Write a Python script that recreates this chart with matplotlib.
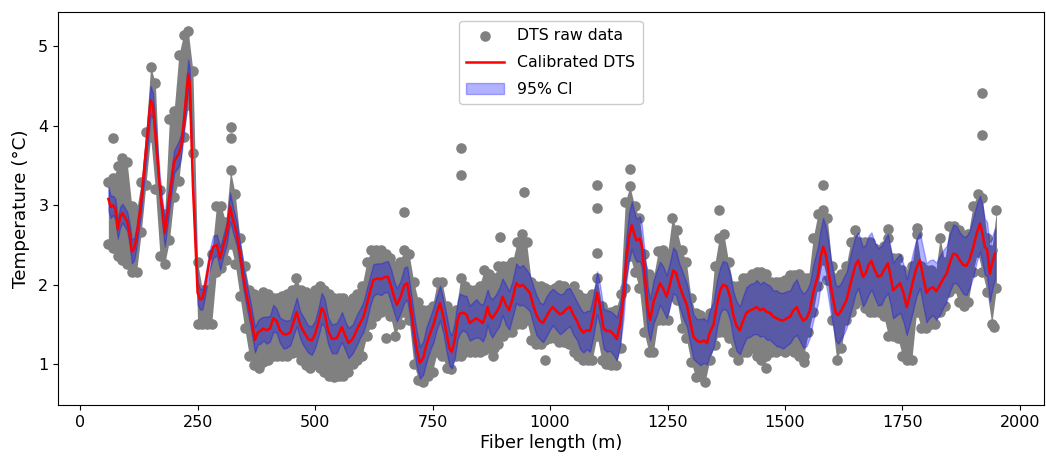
import numpy as np
import matplotlib
matplotlib.use("Agg")
import matplotlib.pyplot as plt

# Calibrated DTS line (fiber length m, temperature degC)
red_x = [60, 65, 70, 75, 80, 85, 90, 100, 105, 110,
         115, 120, 130, 140, 150, 155, 160, 170, 180, 190,
         200, 205, 210, 215, 220, 230, 233, 240, 250, 255,
         260, 265, 275, 283, 291, 298, 305, 312, 319, 326,
         333, 340, 347, 355, 362, 372, 378, 383, 390, 397,
         404, 411, 418, 425, 433, 440, 447, 455, 461, 468,
         475, 485, 493, 500, 508, 514, 520, 528, 536, 546,
         553, 557, 565, 571, 580, 590, 596, 603, 610, 617,
         624, 632, 640, 649, 655, 662, 668, 674, 682, 690,
         696, 702, 709, 716, 723, 730, 737, 745, 752, 759,
         766, 773, 780, 786, 791, 797, 803, 808, 815, 822,
         829, 836, 843, 850, 857, 862, 867, 872, 877, 885,
         892, 899, 906, 913, 920, 928, 935, 942, 950, 957,
         964, 971, 978, 985, 992, 1000, 1006, 1014, 1021, 1028,
         1035, 1042, 1050, 1057, 1064, 1071, 1078, 1085, 1092, 1100,
         1106, 1114, 1121, 1128, 1135, 1142, 1149, 1156, 1162, 1168,
         1174, 1180, 1184, 1191, 1195, 1202, 1208, 1213, 1220, 1227,
         1234, 1241, 1248, 1255, 1262, 1268, 1275, 1284, 1291, 1298,
         1305, 1312, 1320, 1327, 1334, 1340, 1348, 1355, 1362, 1368,
         1376, 1383, 1390, 1397, 1404, 1411, 1418, 1426, 1433, 1440,
         1447, 1454, 1461, 1468, 1475, 1482, 1489, 1496, 1504, 1511,
         1518, 1525, 1532, 1539, 1546, 1553, 1560, 1570, 1576, 1581,
         1586, 1591, 1597, 1603, 1608, 1613, 1620, 1626, 1631, 1638,
         1645, 1650, 1656, 1661, 1666, 1672, 1678, 1684, 1690, 1698,
         1705, 1712, 1719, 1725, 1730, 1738, 1745, 1752, 1759, 1766,
         1773, 1780, 1787, 1794, 1801, 1808, 1815, 1822, 1830, 1837,
         1844, 1851, 1858, 1865, 1872, 1879, 1886, 1893, 1901, 1908,
         1915, 1920, 1925, 1930, 1936, 1942, 1947]
red_y = [3.08, 2.98, 3.0, 2.95, 2.7, 2.85, 2.9, 2.8, 2.65, 2.42,
         2.45, 2.6, 3.05, 3.7, 4.32, 4.25, 3.9, 3.2, 2.65, 3.1,
         3.55, 3.6, 3.65, 3.75, 4.0, 4.65, 4.55, 3.25, 1.9, 1.82,
         1.82, 1.95, 2.3, 2.48, 2.5, 2.33, 2.5, 2.65, 2.98, 2.8,
         2.65, 2.4, 2.1, 1.85, 1.65, 1.31, 1.4, 1.42, 1.45, 1.43,
         1.45, 1.58, 1.55, 1.43, 1.38, 1.38, 1.4, 1.55, 1.66, 1.5,
         1.42, 1.32, 1.3, 1.38, 1.55, 1.71, 1.65, 1.42, 1.32, 1.33,
         1.42, 1.47, 1.35, 1.27, 1.32, 1.45, 1.52, 1.6, 1.75, 1.92,
         2.06, 2.08, 2.07, 2.1, 2.1, 1.98, 1.85, 1.75, 1.85, 2.0,
         2.02, 1.8, 1.48, 1.2, 1.02, 1.08, 1.25, 1.39, 1.5, 1.65,
         1.77, 1.6, 1.38, 1.2, 1.16, 1.3, 1.55, 1.64, 1.65, 1.63,
         1.52, 1.55, 1.58, 1.55, 1.52, 1.6, 1.72, 1.62, 1.58, 1.65,
         1.72, 1.85, 1.75, 1.68, 1.82, 2.02, 1.98, 2.0, 1.95, 1.9,
         1.75, 1.62, 1.55, 1.52, 1.6, 1.68, 1.72, 1.67, 1.63, 1.65,
         1.7, 1.72, 1.62, 1.55, 1.45, 1.4, 1.43, 1.42, 1.6, 1.9,
         1.75, 1.45, 1.42, 1.42, 1.38, 1.32, 1.5, 1.83, 2.3, 2.6,
         2.75, 2.62, 2.56, 2.58, 2.5, 2.1, 1.7, 1.56, 1.78, 1.9,
         2.02, 1.95, 1.85, 2.0, 2.18, 2.15, 2.0, 1.85, 1.75, 1.55,
         1.35, 1.3, 1.28, 1.3, 1.27, 1.4, 1.5, 1.75, 1.93, 2.0,
         1.98, 1.85, 1.62, 1.48, 1.43, 1.55, 1.65, 1.68, 1.7, 1.72,
         1.68, 1.7, 1.66, 1.65, 1.6, 1.58, 1.56, 1.55, 1.58, 1.6,
         1.68, 1.72, 1.62, 1.55, 1.58, 1.68, 1.9, 2.12, 2.35, 2.48,
         2.4, 2.24, 2.0, 1.81, 1.65, 1.62, 1.68, 1.75, 1.81, 1.98,
         2.14, 2.25, 2.31, 2.2, 2.1, 2.15, 2.25, 2.3, 2.2, 2.1,
         2.12, 2.2, 2.27, 2.1, 1.93, 1.98, 2.02, 1.9, 1.72, 1.88,
         2.06, 2.22, 2.31, 2.1, 1.9, 1.95, 1.97, 1.92, 2.0, 2.08,
         2.14, 2.28, 2.39, 2.38, 2.31, 2.25, 2.24, 2.32, 2.48, 2.65,
         2.77, 2.65, 2.48, 2.45, 2.14, 2.3, 2.39]
# 95% CI half-width at each calibrated point
ci_half = [.15, .14, .12, .13, .12, .13, .12, .12, .13, .15,
           .14, .13, .14, .15, .18, .16, .15, .15, .17, .15,
           .14, .15, .16, .15, .15, .18, .17, .15, .14, .13,
           .13, .12, .12, .14, .13, .14, .13, .14, .18, .16,
           .15, .14, .14, .15, .15, .16, .15, .16, .15, .17,
           .16, .17, .15, .16, .18, .17, .16, .17, .18, .17,
           .18, .17, .18, .17, .18, .19, .18, .17, .18, .19,
           .18, .19, .18, .19, .18, .19, .18, .19, .20, .19,
           .20, .19, .20, .19, .20, .21, .20, .21, .20, .22,
           .21, .20, .21, .22, .20, .21, .22, .21, .22, .21,
           .22, .21, .23, .22, .21, .23, .24, .25, .22, .23,
           .22, .23, .24, .22, .23, .24, .22, .23, .24, .23,
           .24, .23, .25, .24, .23, .25, .24, .25, .24, .23,
           .24, .25, .23, .24, .25, .24, .23, .24, .25, .24,
           .25, .24, .25, .24, .26, .25, .24, .26, .25, .27,
           .26, .25, .26, .25, .26, .27, .26, .27, .28, .30,
           .30, .28, .27, .28, .27, .28, .27, .26, .27, .28,
           .27, .28, .27, .28, .29, .28, .27, .28, .27, .28,
           .28, .27, .29, .28, .27, .28, .29, .30, .29, .30,
           .30, .29, .30, .31, .30, .31, .32, .33, .32, .34,
           .33, .34, .35, .34, .33, .35, .34, .35, .34, .33,
           .34, .35, .33, .34, .35, .34, .35, .36, .35, .36,
           .35, .36, .35, .34, .35, .36, .35, .36, .35, .36,
           .37, .36, .35, .36, .37, .36, .37, .36, .35, .36,
           .37, .36, .37, .36, .35, .36, .37, .36, .35, .36,
           .37, .36, .35, .36, .37, .36, .35, .36, .37, .36,
           .35, .36, .37, .36, .35, .36, .37, .36, .37, .36,
           .35, .36, .35, .34, .35, .33, .32]

# Raw DTS data: upper and lower edges of the dense point cloud (every 10 m from 60 m)
raw_x = list(range(60, 1951, 10))
raw_hi = [3.29, 3.34, 3.49, 3.59, 3.54, 2.99, 2.94, 3.29, 3.92, 4.74,
          4.54, 3.19, 2.89, 4.09, 4.19, 4.89, 5.14, 5.19, 4.69, 2.29,
          1.94, 1.94, 2.39, 2.99, 2.99, 2.79, 3.44, 3.14, 2.59, 2.24,
          1.94, 1.89, 1.84, 1.91, 1.89, 1.84, 1.84, 1.86, 1.89, 1.94,
          2.09, 1.94, 1.91, 1.89, 1.94, 1.99, 1.94, 1.89, 1.84, 1.84,
          1.84, 1.79, 1.84, 1.89, 1.99, 2.29, 2.44, 2.44, 2.44, 2.39,
          2.34, 2.24, 2.29, 2.44, 2.39, 2.04, 1.79, 1.69, 1.69, 1.74,
          2.04, 2.04, 1.74, 1.64, 1.69, 2.09, 1.99, 1.94, 1.94, 1.99,
          2.19, 2.14, 2.09, 2.24, 2.24, 2.24, 2.29, 2.54, 2.64, 2.54,
          2.04, 1.99, 1.99, 1.96, 1.94, 1.96, 2.00, 1.99, 1.94, 1.99,
          1.89, 1.84, 1.84, 1.89, 2.09, 1.74, 1.66, 1.66, 1.69, 1.89,
          3.04, 3.24, 2.99, 2.84, 2.39, 2.14, 2.09, 2.42, 2.44, 2.39,
          2.84, 2.69, 2.44, 2.29, 1.84, 1.64, 1.62, 1.56, 1.64, 2.24,
          2.59, 2.64, 2.29, 1.99, 1.99, 2.08, 2.09, 2.14, 2.16, 2.16,
          2.14, 2.04, 2.04, 2.04, 2.06, 2.12, 2.12, 2.14, 2.09, 2.09,
          2.59, 2.89, 2.94, 2.84, 2.24, 2.09, 2.14, 2.24, 2.54, 2.69,
          2.54, 2.54, 2.54, 2.46, 2.44, 2.49, 2.59, 2.34, 2.34, 2.19,
          2.14, 2.24, 2.64, 2.24, 2.19, 2.19, 2.14, 2.59, 2.29, 2.74,
          2.74, 2.69, 2.59, 2.64, 2.99, 3.14, 3.09, 2.59, 2.44, 2.94]
raw_lo = [2.51, 2.46, 2.36, 2.31, 2.26, 2.16, 2.16, 2.66, 3.26, 3.86,
          3.21, 2.36, 2.26, 2.56, 3.11, 3.31, 3.86, 4.26, 3.66, 1.51,
          1.51, 1.51, 1.51, 2.16, 2.21, 2.31, 2.51, 2.26, 1.86, 1.46,
          1.11, 0.99, 0.96, 1.03, 1.06, 1.11, 1.11, 1.11, 1.11, 1.14,
          1.16, 1.06, 0.99, 0.96, 1.01, 0.96, 0.91, 0.86, 0.84, 0.86,
          0.86, 0.91, 1.01, 1.06, 1.11, 1.36, 1.51, 1.61, 1.66, 1.71,
          1.61, 1.36, 1.51, 1.66, 1.56, 1.01, 0.81, 0.78, 0.86, 0.91,
          1.16, 1.11, 0.96, 0.94, 1.11, 1.11, 1.16, 1.16, 1.16, 1.16,
          1.18, 1.21, 1.21, 1.26, 1.36, 1.41, 1.41, 1.51, 1.51, 1.56,
          1.31, 1.26, 1.26, 1.31, 1.33, 1.33, 1.28, 1.28, 1.26, 1.16,
          1.11, 1.06, 1.06, 1.06, 1.36, 1.06, 1.01, 0.99, 0.99, 1.21,
          1.96, 2.36, 2.16, 1.96, 1.41, 1.16, 1.16, 1.56, 1.56, 1.56,
          1.86, 1.81, 1.46, 1.33, 1.03, 0.84, 0.86, 0.78, 1.06, 1.24,
          1.41, 1.41, 1.33, 1.16, 1.06, 1.16, 1.16, 1.21, 1.11, 1.06,
          1.11, 1.16, 1.16, 1.18, 1.16, 1.21, 1.16, 1.11, 1.11, 1.41,
          1.66, 1.99, 2.31, 2.06, 1.56, 1.06, 1.21, 1.56, 1.66, 1.76,
          1.81, 1.71, 1.66, 1.66, 1.66, 1.61, 1.36, 1.36, 1.33, 1.11,
          1.06, 1.06, 1.66, 1.46, 1.46, 1.51, 1.51, 1.66, 1.74, 1.91,
          1.96, 1.78, 1.74, 1.78, 2.16, 2.41, 2.16, 1.91, 1.51, 1.96]
# Isolated raw points outside the dense cloud
out_x = [70, 320, 320, 650, 690, 810, 810, 878, 894, 945, 990, 1100, 1100, 1100,
         1170, 1360, 1460, 1540, 1580, 1720, 1780, 1920, 1920, 1945]
out_y = [3.84, 3.98, 3.84, 1.33, 2.91, 3.72, 3.38, 1.10, 2.60, 3.17, 1.05, 3.25, 2.96, 2.40,
         3.46, 2.94, 0.95, 1.03, 3.25, 2.70, 2.72, 4.41, 3.88, 1.47]

x_ticks = [0, 250, 500, 750, 1000, 1250, 1500, 1750, 2000]
y_ticks = [1, 2, 3, 4, 5]

fs = 11.3
fig = plt.figure(figsize=(10.46, 4.58), dpi=100)
ax = fig.add_axes([0.0555, 0.1157, 0.9425, 0.8583])

gray = "#808080"
ms = 58
ax.fill_between(raw_x, raw_lo, raw_hi, color=gray, linewidth=0, zorder=1)
ax.scatter(raw_x, raw_hi, s=ms, color=gray, linewidths=0, zorder=1)
ax.scatter(raw_x, raw_lo, s=ms, color=gray, linewidths=0, zorder=1)
ax.scatter(out_x, out_y, s=ms, color=gray, linewidths=0, zorder=1,
           label="DTS raw data")

rx = np.array(red_x, dtype=float)
ry = np.array(red_y, dtype=float)
ch = np.array(ci_half, dtype=float)
ax.plot(rx, ry, color="red", linewidth=1.8, zorder=4, label="Calibrated DTS")
ax.fill_between(rx, ry - ch, ry + ch, color="blue", alpha=0.3, zorder=3,
                label="95% CI")

ax.set_xlim(-47, 2051)
ax.set_ylim(0.49, 5.43)
ax.set_xticks(x_ticks)
ax.set_yticks(y_ticks)
ax.tick_params(labelsize=11.5)
ax.set_xlabel("Fiber length (m)", fontsize=12.8, labelpad=3)
ax.set_ylabel("Temperature (°C)", fontsize=13.2, labelpad=6)

ax.legend(loc="upper center", fontsize=fs, handlelength=2.4,
          handletextpad=0.85, borderpad=0.45, labelspacing=0.75,
          borderaxespad=0.6, framealpha=1.0)

fig.savefig("out.png", dpi=100)
